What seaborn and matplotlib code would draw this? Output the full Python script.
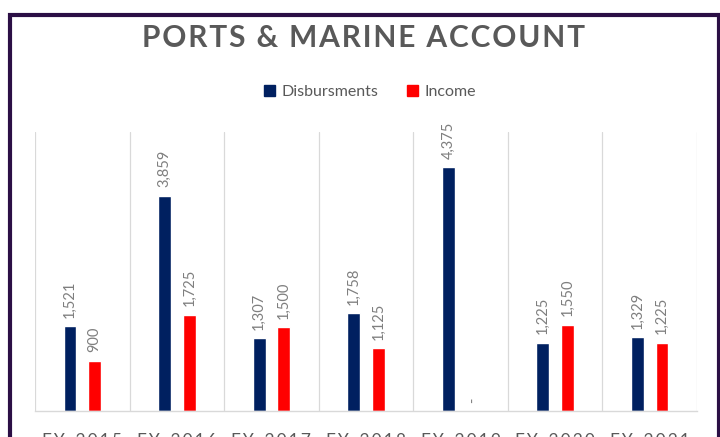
import matplotlib
matplotlib.use("Agg")
import matplotlib.pyplot as plt
import seaborn as sns
import pandas as pd
from matplotlib.patches import Rectangle

years = ["FY-2015", "FY-2016", "FY-2017", "FY-2018", "FY-2019", "FY-2020", "FY-2021"]
disbursments = [1521, 3859, 1307, 1758, 4375, 1225, 1329]
income = [900, 1725, 1500, 1125, 0, 1550, 1225]
series = ["Disbursments", "Income"]
colors = ["#002060", "#FF0000"]
title = "PORTS & MARINE ACCOUNT"

df = pd.DataFrame({
    "year": years * 2,
    "value": disbursments + income,
    "series": [series[0]] * len(years) + [series[1]] * len(years),
})

sns.set_theme(style="white")
plt.rcParams["font.family"] = ["Lato", "DejaVu Sans"]

fig = plt.figure(figsize=(7.2, 4.37), dpi=100)
W, H = 720, 437
ax = fig.add_axes([35 / W, (H - 411) / H, (697 - 35) / W, (411 - 132) / H])

sns.barplot(data=df, x="year", y="value", hue="series", palette=colors,
            width=0.52, gap=0.48, ax=ax, legend=False, saturation=1)

ax.set_ylim(0, 5000)
ax.set_xlim(-0.5, 6.5)
ax.set_yticks([])
ax.set_xlabel("")
ax.set_ylabel("")
for s in ["top", "right", "left"]:
    ax.spines[s].set_visible(False)
ax.spines["bottom"].set_color("#D9D9D9")
ax.spines["bottom"].set_linewidth(1)

for b in [i + 0.5 for i in range(-1, 7)]:
    ax.axvline(b, color="#D9D9D9", lw=0.9, zorder=0)

ax.tick_params(axis="x", length=0, pad=16, labelsize=12.5, colors="#595959")
ax.set_xticks(range(len(years)))
ax.set_xticklabels(["\u2009".join(list(y)) for y in years])

for cont in ax.containers:
    for bar in cont:
        v = bar.get_height()
        lab = "-" if v == 0 else f"{int(v):,}"
        ax.annotate(lab, (bar.get_x() + bar.get_width() / 2, v),
                    xytext=(0, 6), textcoords="offset points",
                    rotation=90, ha="center", va="bottom",
                    fontsize=10.5, color="#7F7F7F")

fig.text(364 / W, 1 - 38 / H, "\u200a".join(list(title)), ha="center", va="center",
         fontsize=21.5, fontweight="bold", color="#595959")

handles = [Rectangle((0, 0), 1, 1, color=c) for c in colors]
fig.legend(handles, series, loc="center", bbox_to_anchor=(370 / W, 1 - 92 / H),
           ncol=2, frameon=False, fontsize=11.5, labelcolor="#595959",
           handlelength=0.7, handleheight=0.7, handletextpad=0.4, columnspacing=1.8)

border = Rectangle((10 / W, -0.1), (719 - 10) / W, 1 - 15 / H + 0.1,
                   transform=fig.transFigure, fill=False, edgecolor="#2B0F45", lw=3)
fig.patches.append(border)

fig.savefig("out.png", dpi=100)
